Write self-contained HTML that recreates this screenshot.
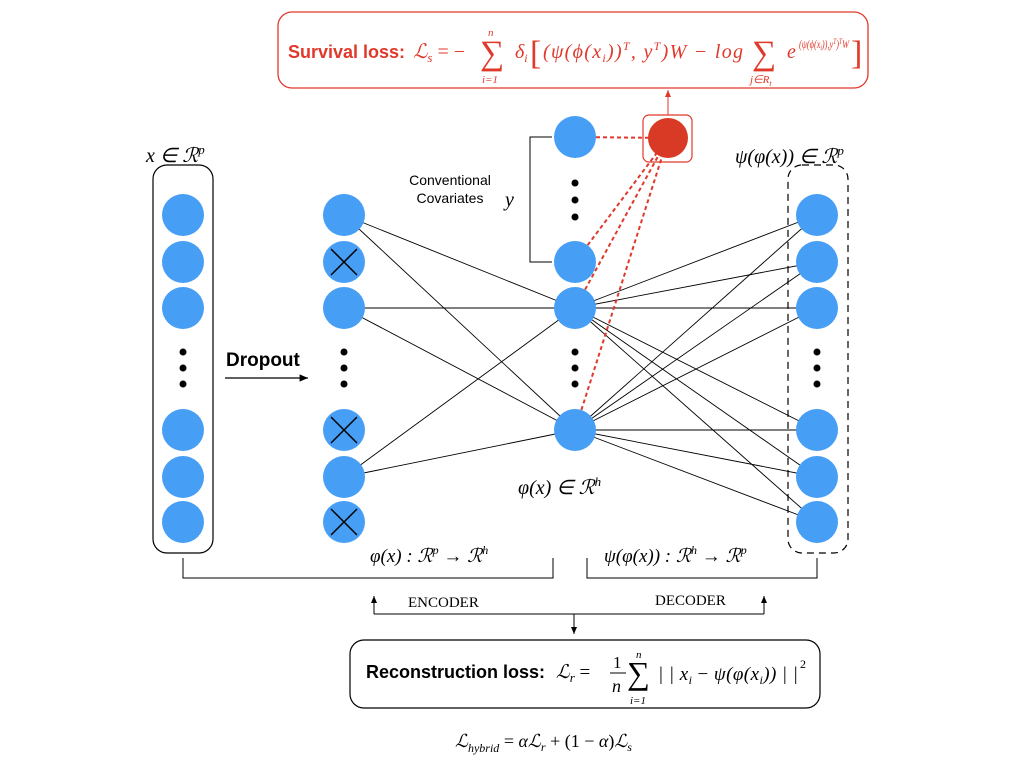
<!DOCTYPE html>
<html><head><meta charset="utf-8"><style>
body{margin:0;background:#fff}
svg{display:block}
.m{font-family:"Liberation Serif",serif;font-style:italic}
.s{font-family:"Liberation Sans",sans-serif}
</style></head><body>
<svg width="1024" height="768" viewBox="0 0 1024 768" xmlns="http://www.w3.org/2000/svg">
<defs><marker id="a" markerWidth="8" markerHeight="8" refX="7" refY="4" orient="auto"><path d="M0,1 L7,4 L0,7 z" fill="#000"/></marker>
<marker id="r" markerWidth="8" markerHeight="8" refX="7" refY="4" orient="auto"><path d="M0,1 L7,4 L0,7 z" fill="#e0392b"/></marker></defs>
<!-- survival box -->
<rect x="278" y="12" width="590" height="76" rx="14" fill="none" stroke="#e0392b" stroke-width="1.3"/>
<text x="288" y="58" class="s" font-weight="bold" font-size="18" fill="#e0392b">Survival loss:</text>
<text x="413" y="58" class="m" font-size="20" fill="#e0392b">ℒ<tspan font-size="13" dy="4">s</tspan><tspan dy="-4" font-style="normal"> = −</tspan></text>
<text x="480" y="64" font-family="Liberation Serif" font-size="34" fill="#e0392b">∑</text>
<text x="488" y="36" class="m" font-size="11" fill="#e0392b">n</text>
<text x="482" y="83" class="m" font-size="11" fill="#e0392b">i=1</text>
<text x="515" y="58" class="m" font-size="20" fill="#e0392b">δ<tspan font-size="12" dy="4">i</tspan></text>
<text x="530" y="64" font-family="Liberation Serif" font-size="34" fill="#e0392b">[</text>
<text x="543" y="58" class="m" font-size="20" fill="#e0392b" textLength="200" lengthAdjust="spacing">(ψ(ϕ(x<tspan font-size="12" dy="4">i</tspan><tspan dy="-4">))</tspan><tspan font-size="12" dy="-8">T</tspan><tspan dy="8">, y</tspan><tspan font-size="12" dy="-8">T</tspan><tspan dy="8">)W − log</tspan></text>
<text x="752" y="64" font-family="Liberation Serif" font-size="34" fill="#e0392b">∑</text>
<text x="750" y="83" class="m" font-size="11" fill="#e0392b">j∈R<tspan font-size="8" dy="3">t</tspan></text>
<text x="787" y="58" class="m" font-size="20" fill="#e0392b">e</text>
<text x="799" y="48" class="m" font-size="12" fill="#e0392b" textLength="50" lengthAdjust="spacingAndGlyphs">(ψ(ϕ(x<tspan font-size="8" dy="2">i</tspan><tspan dy="-2">)),y</tspan><tspan font-size="8" dy="-4">T</tspan><tspan dy="4">)</tspan><tspan font-size="8" dy="-4">T</tspan><tspan dy="4">W</tspan></text>
<text x="851" y="64" font-family="Liberation Serif" font-size="34" fill="#e0392b">]</text>
<line x1="668" y1="115" x2="668" y2="90" stroke="#e0392b" stroke-width="1" marker-end="url(#r)"/>
<!-- input column -->
<rect x="153" y="165" width="60" height="388" rx="14" fill="none" stroke="#000" stroke-width="1.2"/>
<text x="146" y="162" class="m" font-size="20">x ∈ ℛ<tspan font-size="13" dy="-8">p</tspan></text>
<g fill="#469ef5">
<circle cx="183" cy="215" r="21"/><circle cx="183" cy="262" r="21"/><circle cx="183" cy="308" r="21"/>
<circle cx="183" cy="430" r="21"/><circle cx="183" cy="477" r="21"/><circle cx="183" cy="522" r="21"/>
</g>
<g fill="#000"><circle cx="183" cy="352" r="3.5"/><circle cx="183" cy="368" r="3.5"/><circle cx="183" cy="384" r="3.5"/>
<circle cx="344" cy="352" r="3.5"/><circle cx="344" cy="368" r="3.5"/><circle cx="344" cy="384" r="3.5"/>
<circle cx="575" cy="183" r="3.5"/><circle cx="575" cy="200" r="3.5"/><circle cx="575" cy="217" r="3.5"/>
<circle cx="575" cy="352" r="3.5"/><circle cx="575" cy="368" r="3.5"/><circle cx="575" cy="384" r="3.5"/>
<circle cx="817" cy="352" r="3.5"/><circle cx="817" cy="368" r="3.5"/><circle cx="817" cy="384" r="3.5"/></g>
<text x="226" y="366" class="s" font-weight="bold" font-size="19">Dropout</text>
<line x1="225" y1="378" x2="308" y2="378" stroke="#000" stroke-width="1.2" marker-end="url(#a)"/>
<!-- connections -->
<g stroke="#000" stroke-width="0.9">
<line x1="344" y1="215" x2="575" y2="308"/><line x1="344" y1="215" x2="575" y2="430"/>
<line x1="344" y1="308" x2="575" y2="308"/><line x1="344" y1="308" x2="575" y2="430"/>
<line x1="344" y1="477" x2="575" y2="308"/><line x1="344" y1="477" x2="575" y2="430"/>
<line x1="575" y1="308" x2="817" y2="215"/><line x1="575" y1="308" x2="817" y2="262"/><line x1="575" y1="308" x2="817" y2="308"/><line x1="575" y1="308" x2="817" y2="430"/><line x1="575" y1="308" x2="817" y2="477"/><line x1="575" y1="308" x2="817" y2="522"/>
<line x1="575" y1="430" x2="817" y2="215"/><line x1="575" y1="430" x2="817" y2="262"/><line x1="575" y1="430" x2="817" y2="308"/><line x1="575" y1="430" x2="817" y2="430"/><line x1="575" y1="430" x2="817" y2="477"/><line x1="575" y1="430" x2="817" y2="522"/>
</g>
<g stroke="#e0392b" stroke-width="2" stroke-dasharray="4,3">
<line x1="575" y1="137" x2="668" y2="138"/><line x1="575" y1="262" x2="668" y2="138"/><line x1="575" y1="308" x2="668" y2="138"/><line x1="575" y1="430" x2="668" y2="138"/>
</g>
<!-- col2 -->
<g fill="#469ef5">
<circle cx="344" cy="215" r="21"/><circle cx="344" cy="262" r="21"/><circle cx="344" cy="308" r="21"/>
<circle cx="344" cy="430" r="21"/><circle cx="344" cy="477" r="21"/><circle cx="344" cy="522" r="21"/>
<circle cx="575" cy="137" r="21"/><circle cx="575" cy="262" r="21"/><circle cx="575" cy="308" r="21"/><circle cx="575" cy="430" r="21"/>
<circle cx="817" cy="215" r="21"/><circle cx="817" cy="262" r="21"/><circle cx="817" cy="308" r="21"/>
<circle cx="817" cy="430" r="21"/><circle cx="817" cy="477" r="21"/><circle cx="817" cy="522" r="21"/>
</g>
<g stroke="#000" stroke-width="1.5">
<line x1="331" y1="249" x2="357" y2="275"/><line x1="357" y1="249" x2="331" y2="275"/>
<line x1="331" y1="417" x2="357" y2="443"/><line x1="357" y1="417" x2="331" y2="443"/>
<line x1="331" y1="509" x2="357" y2="535"/><line x1="357" y1="509" x2="331" y2="535"/>
</g>
<!-- red node -->
<rect x="643" y="115" width="49" height="47" rx="6" fill="none" stroke="#e0392b" stroke-width="1.2"/>
<circle cx="668" cy="138" r="20" fill="#d83a26"/>
<!-- y bracket -->
<path d="M552,137 H530 V262 H552" fill="none" stroke="#000" stroke-width="1"/>
<text x="505" y="206" class="m" font-size="20">y</text>
<text x="450" y="185" class="s" font-size="14" text-anchor="middle">Conventional</text>
<text x="450" y="203" class="s" font-size="14" text-anchor="middle">Covariates</text>
<text x="518" y="494" class="m" font-size="20">φ(x) ∈ ℛ<tspan font-size="13" dy="-8">h</tspan></text>
<!-- right -->
<rect x="788" y="165" width="60" height="388" rx="14" fill="none" stroke="#000" stroke-width="1.2" stroke-dasharray="7,5"/>
<text x="735" y="163" class="m" font-size="20">ψ(φ(x)) ∈ ℛ<tspan font-size="13" dy="-8">p</tspan></text>
<!-- bottom -->
<text x="370" y="562" class="m" font-size="19">φ(x) : ℛ<tspan font-size="12" dy="-8">p</tspan><tspan dy="8" font-style="normal"> → </tspan>ℛ<tspan font-size="12" dy="-8">h</tspan></text>
<text x="604" y="562" class="m" font-size="19">ψ(φ(x)) : ℛ<tspan font-size="12" dy="-8">h</tspan><tspan dy="8" font-style="normal"> → </tspan>ℛ<tspan font-size="12" dy="-8">p</tspan></text>
<path d="M183,558 V578 H553 V558" fill="none" stroke="#000" stroke-width="1"/>
<path d="M587,558 V578 H817 V558" fill="none" stroke="#000" stroke-width="1"/>
<path d="M374,614 H764" stroke="#000" stroke-width="1"/>
<line x1="374" y1="614" x2="374" y2="596" stroke="#000" stroke-width="1" marker-end="url(#a)"/>
<line x1="764" y1="614" x2="764" y2="596" stroke="#000" stroke-width="1" marker-end="url(#a)"/>
<line x1="574" y1="614" x2="574" y2="634" stroke="#000" stroke-width="1" marker-end="url(#a)"/>
<text x="408" y="607" font-family="Liberation Serif" font-size="15">ENCODER</text>
<text x="655" y="605" font-family="Liberation Serif" font-size="15">DECODER</text>
<rect x="350" y="640" width="470" height="68" rx="14" fill="none" stroke="#000" stroke-width="1.2"/>
<text x="366" y="678" class="s" font-weight="bold" font-size="18">Reconstruction loss:</text>
<text x="556" y="678" class="m" font-size="19">ℒ<tspan font-size="13" dy="4">r</tspan><tspan dy="-4" font-style="normal"> = </tspan></text>
<text x="613" y="668" font-family="Liberation Serif" font-size="17">1</text>
<line x1="610" y1="673" x2="626" y2="673" stroke="#000"/>
<text x="612" y="692" class="m" font-size="18">n</text>
<text x="627" y="684" font-family="Liberation Serif" font-size="32">∑</text>
<text x="636" y="658" class="m" font-size="11">n</text>
<text x="630" y="704" class="m" font-size="11">i=1</text>
<text x="658" y="680" class="m" font-size="19" textLength="140" lengthAdjust="spacing">| | x<tspan font-size="12" dy="4">i</tspan><tspan dy="-4" font-style="normal"> − </tspan>ψ(φ(x<tspan font-size="12" dy="4">i</tspan><tspan dy="-4">)) | |</tspan></text>
<text x="800" y="668" font-family="Liberation Serif" font-size="12">2</text>
<text x="455" y="747" class="m" font-size="18">ℒ<tspan font-size="12" dy="5">hybrid</tspan><tspan dy="-5" font-style="normal"> = </tspan>αℒ<tspan font-size="12" dy="4">r</tspan><tspan dy="-4" font-style="normal"> + (1 − </tspan>α<tspan font-style="normal">)</tspan>ℒ<tspan font-size="12" dy="4">s</tspan></text>
</svg>
</body></html>
